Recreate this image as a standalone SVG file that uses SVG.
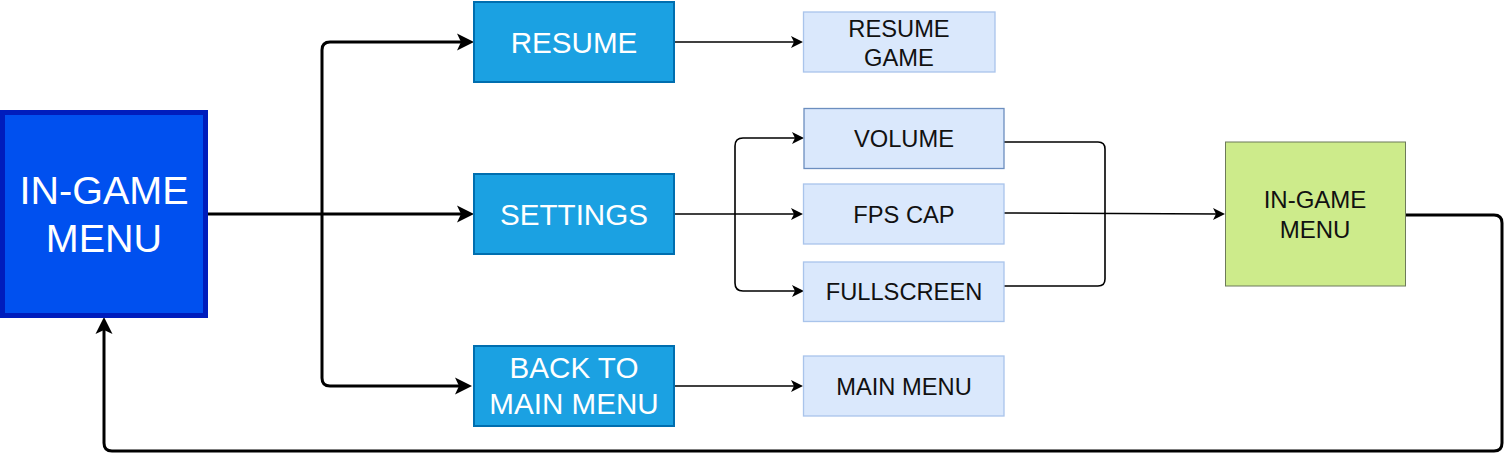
<svg xmlns="http://www.w3.org/2000/svg" width="1511" height="461" viewBox="0 0 1511 461">
<style>
text{font-family:"Liberation Sans",Arial,sans-serif;text-anchor:middle}
.btn{fill:#1BA1E2;stroke:#006EAF;stroke-width:2}
.btxt{fill:#fff;font-size:29.6px}
.opt{fill:#DAE8FC;stroke:#A9C4EB;stroke-width:1.3}
.otxt{fill:#111;font-size:23.7px}
.thick{fill:none;stroke:#000;stroke-width:3;stroke-linejoin:round}
.thin{fill:none;stroke:#000;stroke-width:1.6;stroke-linejoin:round}
</style>
<defs>
<marker id="ah3" markerUnits="userSpaceOnUse" viewBox="0 -9 18 18" refX="7" refY="0" markerWidth="18" markerHeight="18" orient="auto">
<path d="M0,-8.5 L17,0 L0,8.5 L4,0 Z" fill="#000"/>
</marker>
<marker id="ah1" markerUnits="userSpaceOnUse" viewBox="0 -7 13 14" refX="5" refY="0" markerWidth="13" markerHeight="14" orient="auto">
<path d="M0,-6 L12,0 L0,6 L3,0 Z" fill="#000"/>
</marker>
</defs>
<g id="connectors">
<path class="thick" d="M207,214 H464" marker-end="url(#ah3)"/>
<path class="thick" d="M322,214 V50 Q322,42 330,42 H464" marker-end="url(#ah3)"/>
<path class="thick" d="M322,214 V378 Q322,386 330,386 H462" marker-end="url(#ah3)"/>
<path class="thin" d="M675,42 H796" marker-end="url(#ah1)"/>
<path class="thin" d="M675,214 H796" marker-end="url(#ah1)"/>
<path class="thin" d="M735,214 V146 Q735,138 743,138 H797" marker-end="url(#ah1)"/>
<path class="thin" d="M735,214 V283 Q735,291 743,291 H797" marker-end="url(#ah1)"/>
<path class="thin" d="M675,386 H796" marker-end="url(#ah1)"/>
<path class="thin" d="M1004,142 H1098 Q1105,142 1105,149 V279 Q1105,286 1098,286 H1004"/>
<path class="thin" d="M1004,213 L1218,214" marker-end="url(#ah1)"/>
<path class="thick" d="M1406,215 H1494 Q1502,215 1502,223 V443 Q1502,451 1494,451 H112 Q104,451 104,443 V327" marker-end="url(#ah3)"/>
</g>
<g id="ingame-menu">
<rect x="2.5" y="112.5" width="203" height="203" fill="#0050EF" stroke="#001DBC" stroke-width="5"/>
<text x="104" y="204" fill="#fff" font-size="39.5">IN-GAME</text>
<text x="104" y="252" fill="#fff" font-size="39.5">MENU</text>
</g>
<g id="resume">
<rect class="btn" x="474" y="2" width="200" height="80"/>
<text class="btxt" x="574" y="52.6">RESUME</text>
</g>
<g id="settings">
<rect class="btn" x="474" y="174" width="200" height="80"/>
<text class="btxt" x="574" y="224.6">SETTINGS</text>
</g>
<g id="back-to-main-menu">
<rect class="btn" x="474" y="346" width="200" height="80"/>
<text class="btxt" x="574" y="378">BACK TO</text>
<text class="btxt" x="574" y="414">MAIN MENU</text>
</g>
<g id="resume-game">
<rect class="opt" x="803.5" y="12" width="191.5" height="60"/>
<text class="otxt" x="899" y="37">RESUME</text>
<text class="otxt" x="899" y="66">GAME</text>
</g>
<g id="volume">
<rect class="opt" x="804" y="108.5" width="200" height="60" style="stroke:#6C8EBF"/>
<text class="otxt" x="904" y="146.5">VOLUME</text>
</g>
<g id="fps-cap">
<rect class="opt" x="803.5" y="184" width="200.5" height="60"/>
<text class="otxt" x="904" y="222.5">FPS CAP</text>
</g>
<g id="fullscreen">
<rect class="opt" x="803.5" y="262" width="200.5" height="59.5"/>
<text class="otxt" x="904" y="300">FULLSCREEN</text>
</g>
<g id="main-menu">
<rect class="opt" x="803.5" y="356" width="200.5" height="60"/>
<text class="otxt" x="904" y="395">MAIN MENU</text>
</g>
<g id="ingame-menu-return">
<rect x="1225.5" y="142" width="180" height="144" fill="#CDEB8B" stroke="#6D7A5A" stroke-width="1"/>
<text x="1315" y="208.3" fill="#111" font-size="24">IN-GAME</text>
<text x="1315" y="238.3" fill="#111" font-size="24">MENU</text>
</g>
</svg>
